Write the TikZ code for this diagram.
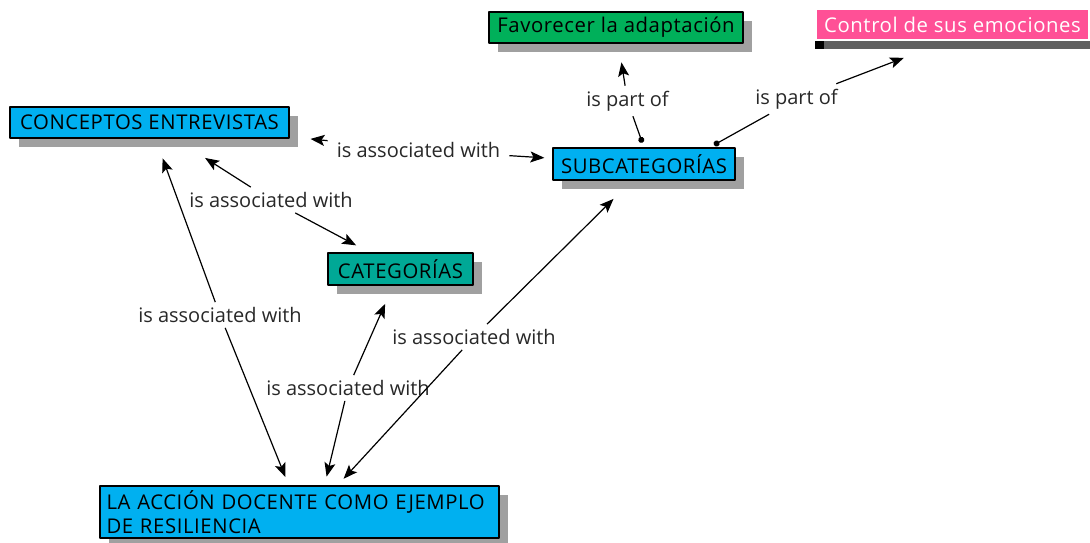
\documentclass[tikz,border=0pt]{standalone}
\usepackage{fontspec}
\setmainfont{Open Sans}
\usetikzlibrary{arrows.meta,shadows}
\definecolor{cmblue}{RGB}{0,176,240}
\definecolor{cmgreen}{RGB}{0,176,90}
\definecolor{cmteal}{RGB}{0,168,150}
\definecolor{cmpink}{RGB}{255,80,150}
\definecolor{cmshadow}{RGB}{160,160,160}
\definecolor{cmbar}{RGB}{96,96,96}
\definecolor{cmtext}{RGB}{40,40,40}
\begin{document}
\begin{tikzpicture}[x=1pt,y=-1pt,line join=round,
	concepto/.style={draw=black,line width=1.2pt,inner sep=0pt,font=\fontsize{20.3}{24}\selectfont\addfontfeatures{LetterSpace=3}\selectfont,
		drop shadow={shadow xshift=9pt,shadow yshift=-9pt,fill=cmshadow,opacity=1}},
	enlace/.style={font=\fontsize{20}{24}\selectfont,text=cmtext,inner xsep=9pt,inner ysep=5pt},
	flecha/.style={line width=1.2pt,-{Stealth[length=14pt,width=11pt,inset=3pt]}},
	punto/.style={line width=1.2pt,{Circle[length=6pt]}-,shorten <=5pt}]
	\useasboundingbox (0,0) rectangle (1090,543);
	% conceptos
	\node[concepto,fill=cmblue,minimum width=279pt,minimum height=31pt] (con) at (149.5,122.5) {CONCEPTOS ENTREVISTAS};
	\node[concepto,fill=cmblue,minimum width=182pt,minimum height=32pt] (sub) at (644,164) {SUBCATEGORÍAS};
	\node[concepto,fill=cmteal,minimum width=145pt,minimum height=32pt] (cat) at (400.5,269) {CATEGORÍAS};
	\node[concepto,fill=cmgreen,minimum width=254pt,minimum height=31pt] (fav) at (616,27.5) {Favorecer la adaptación};
	\node[concepto,fill=cmblue,minimum height=52pt,text width=386pt,inner xsep=6.5pt,align=left] (acc) at (299.5,512)
		{LA ACCIÓN DOCENTE COMO EJEMPLO\\DE RESILIENCIA};
	\fill[cmbar] (817,41) rectangle (1090,49);
	\fill (815,41) rectangle (824,49);
	\node[fill=cmpink,text=white,inner sep=0pt,minimum width=271pt,minimum height=29pt,
		font=\fontsize{20.3}{24}\selectfont\addfontfeatures{LetterSpace=3}\selectfont] (ctl) at (952.5,24.5) {Control de sus emociones};
	% enlaces
	\node[enlace] (l1) at (418.5,150) {is associated with};
	\node[enlace] (l2) at (271,200) {is associated with};
	\node[enlace] (l3) at (220,315) {is associated with};
	\node[enlace] (l4) at (348,388) {is associated with};
	\node[enlace] (l5) at (474,337) {is associated with};
	\node[enlace] (p1) at (627.5,101) {is part of};
	\node[enlace] (p2) at (796.5,99) {is part of};
	\draw[flecha,shorten >=21pt] (l1) -- (con);
	\draw[flecha,shorten >=8pt] (l1) -- (sub);
	\draw[flecha,shorten >=36pt] (l2) -- (con);
	\draw[flecha,shorten >=15pt] (l2) -- (cat);
	\draw[flecha,shorten >=21pt] (l3) -- (con);
	\draw[flecha,shorten >=9pt] (l3) -- (acc);
	\draw[flecha,shorten >=20pt] (l4) -- (cat);
	\draw[flecha,shorten >=9pt] (l4) -- ([xshift=25pt]acc.north);
	\draw[flecha,shorten >=26pt] (l5) -- ([xshift=-12pt]sub.south);
	\draw[flecha,shorten >=9pt] (l5) -- ([xshift=38pt]acc.north);
	\draw[punto] (sub.north) -- (p1);
	\draw[flecha,shorten >=19pt] (p1) -- (fav);
	\draw[punto] ([xshift=-26pt]sub.north east) -- (p2);
	\draw[flecha,shorten >=52pt] (p2) -- (ctl.south);
\end{tikzpicture}
\end{document}
